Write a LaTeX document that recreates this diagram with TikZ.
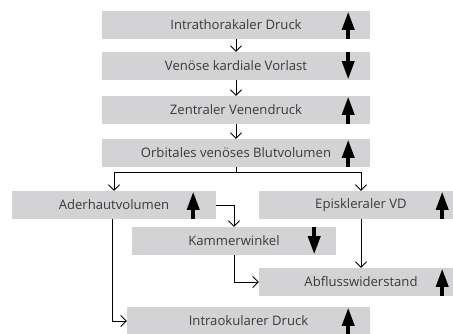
\documentclass[tikz,border=0pt]{standalone}
\usepackage{fontspec}
\setmainfont{Open Sans}
\usetikzlibrary{arrows.meta}
\definecolor{boxgray}{HTML}{D3D3D5}
\definecolor{textgray}{HTML}{3A3A3A}
\tikzset{
  box/.style={fill=boxgray, minimum height=28pt, inner sep=0pt, text=textgray, font=\fontsize{13.1}{15}\selectfont},
  wide/.style={box, minimum width=268pt},
  narrow/.style={box, minimum width=204pt},
  arr/.style={draw=black, line width=0.8pt, -{Straight Barb[length=5.5pt,width=11pt]}},
  bigarr/.style={line width=3.5pt, black, -{Triangle[length=18pt,width=12pt]}}
}
\begin{document}
\begin{tikzpicture}[x=1pt,y=-1pt]
\useasboundingbox (0,0) rectangle (453,334);
\node[wide] (b1) at (236,25) {Intrathorakaler Druck};
\node[wide] (b2) at (236,66) {Venöse kardiale Vorlast};
\node[wide] (b3) at (236,110) {Zentraler Venendruck};
\node[wide] (b4) at (236,153) {Orbitales venöses Blutvolumen};
\node[narrow] (ader) at (114,205) {Aderhautvolumen};
\node[narrow] (episk) at (361,205) {Episkleraler VD};
\node[narrow] (kammer) at (234,241) {Kammerwinkel};
\node[narrow] (abfluss) at (361,282) {Abflusswiderstand};
\node[box, minimum width=243pt] (iod) at (248.5,321) {Intraokularer Druck};
% connectors
\draw[arr] (b1.south) -- (b2.north);
\draw[arr] (b2.south) -- (b3.north);
\draw[arr] (b3.south) -- (b4.north);
\draw[arr] (b4.south) -- ++(0,5) -| (ader.north);
\draw[arr] (b4.south) -- ++(0,5) -| (episk.north);
\draw[arr] (ader.east) -| (kammer.north);
\draw[arr] (kammer.south) |- (abfluss.west);
\draw[arr] (episk.south) -- (abfluss.north);
\draw[arr] ([xshift=-2pt]ader.south) |- (iod.west);
% trend arrows
\draw[bigarr] ([xshift=-22pt]b1.south east) -- ([xshift=-22pt,yshift=-1pt]b1.north east);
\draw[bigarr] ([xshift=-22pt]b2.north east) -- ([xshift=-22pt,yshift=1pt]b2.south east);
\draw[bigarr] ([xshift=-22pt]b3.south east) -- ([xshift=-22pt,yshift=-1pt]b3.north east);
\draw[bigarr] ([xshift=-22pt]b4.south east) -- ([xshift=-22pt,yshift=-1pt]b4.north east);
\draw[bigarr] ([xshift=-23pt]ader.south east) -- ([xshift=-23pt,yshift=-1pt]ader.north east);
\draw[bigarr] ([xshift=-21pt]episk.south east) -- ([xshift=-21pt,yshift=-1pt]episk.north east);
\draw[bigarr] ([xshift=-22pt]kammer.north east) -- ([xshift=-22pt,yshift=1pt]kammer.south east);
\draw[bigarr] ([xshift=-21pt]abfluss.south east) -- ([xshift=-21pt,yshift=-1pt]abfluss.north east);
\draw[bigarr] ([xshift=-22pt]iod.south east) -- ([xshift=-22pt,yshift=-1pt]iod.north east);
\end{tikzpicture}
\end{document}
